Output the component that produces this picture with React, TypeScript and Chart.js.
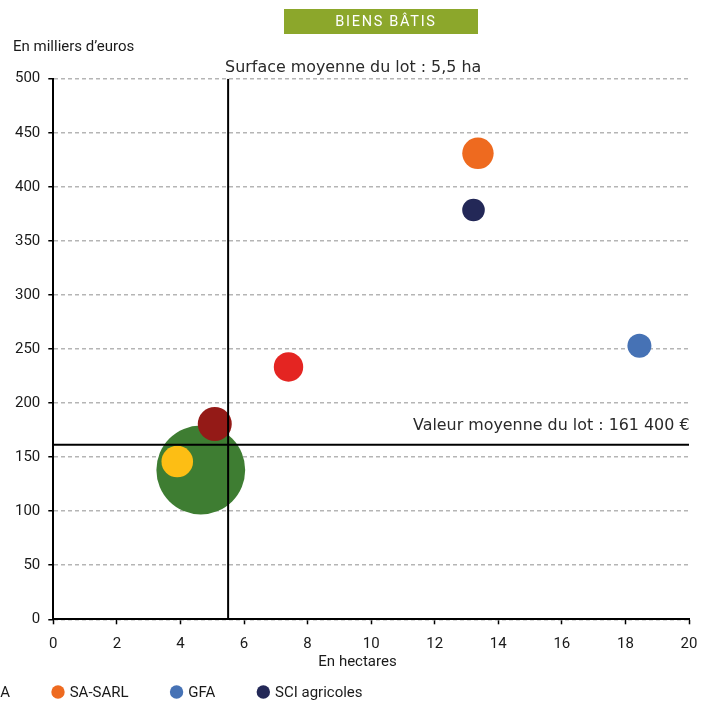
import React, { useEffect, useRef } from 'react';
import { Chart, registerables } from 'chart.js';

Chart.register(...registerables);

// Acquéreurs de biens bâtis : surface moyenne (ha), valeur moyenne (k€), taille de bulle
const seriesNames = ['Personnes physiques', 'EARL', 'GAEC', 'SCEA', 'SA-SARL', 'GFA', 'SCI agricoles'];
const surfaces = [4.64, 3.9, 7.4, 5.08, 13.36, 18.44, 13.22];
const valeurs = [138.1, 145.9, 233.4, 180.6, 431, 253, 378.6];
const bubbleSizes = [44.4, 15.8, 14.7, 17, 15.7, 12, 11.3];
const seriesColors = ['#3E7D32', '#FDBE14', '#E42522', '#941A17', '#EE6A1F', '#4672B5', '#232857'];
const drawOrder = [3, 2, 2, 2, 2, 2, 2];

const surfaceMoyenne = 5.5; // ha
const valeurMoyenne = 161.4; // milliers d'euros

const xTicks = { min: 0, max: 20, step: 2 };
const yTicks = { min: 0, max: 500, step: 50 };

const TICK_FONT = { family: 'Roboto', size: 15 };
const TEXT_COLOR = '#1a1a1a';

const overlayText = {
  id: 'overlayText',
  afterDraw(chart: any) {
    const { ctx } = chart;
    const xs = chart.scales.x;
    const ys = chart.scales.y;
    ctx.save();

    // Bandeau de titre
    ctx.fillStyle = '#8CA72B';
    ctx.fillRect(284, 9, 194, 25);
    ctx.fillStyle = '#ffffff';
    ctx.font = '14.5px Roboto';
    (ctx as any).letterSpacing = '1.7px';
    ctx.textAlign = 'center';
    ctx.textBaseline = 'middle';
    ctx.fillText('BIENS BÂTIS', 386, 22);
    (ctx as any).letterSpacing = '0px';

    // Titre de l'axe vertical
    ctx.fillStyle = TEXT_COLOR;
    ctx.font = '15px Roboto';
    ctx.textAlign = 'left';
    ctx.fillText('En milliers d’euros', 13, 47);

    // Titre de l'axe horizontal
    ctx.textAlign = 'center';
    ctx.fillText('En hectares', 357.5, 662);

    // Libellés des moyennes
    ctx.font = '15.9px "DejaVu Sans"';
    ctx.fillStyle = '#2a2a2a';
    ctx.textAlign = 'left';
    ctx.fillText('Surface moyenne du lot : 5,5 ha', xs.getPixelForValue(surfaceMoyenne) - 3, 68);
    ctx.textAlign = 'right';
    ctx.fillText('Valeur moyenne du lot : 161 400 €', 689.5, ys.getPixelForValue(valeurMoyenne) - 19);

    // Légende
    ctx.font = '15px Roboto';
    ctx.textAlign = 'left';
    const gap = 48;
    const markerR = 6.7;
    const textOffset = 11.7;
    const widths = seriesNames.map((n) => ctx.measureText(n).width);
    const anchorIndex = 4;
    let cx = 58;
    for (let i = 0; i < anchorIndex; i++) cx -= textOffset + widths[i] + gap;
    const ly = 692;
    seriesNames.forEach((name, i) => {
      ctx.beginPath();
      ctx.fillStyle = seriesColors[i];
      ctx.arc(cx, ly, markerR, 0, Math.PI * 2);
      ctx.fill();
      ctx.fillStyle = TEXT_COLOR;
      ctx.fillText(name, cx + textOffset, ly + 1);
      cx += textOffset + widths[i] + gap;
    });

    ctx.restore();
  },
};

export default function App() {
  const canvasRef = useRef<HTMLCanvasElement | null>(null);

  useEffect(() => {
    document.body.style.margin = '0';
    const canvas = canvasRef.current;
    if (!canvas) return;

    const bubbleSets = seriesNames.map((name, i) => ({
      type: 'bubble' as const,
      label: name,
      data: [{ x: surfaces[i], y: valeurs[i], r: bubbleSizes[i] }],
      backgroundColor: seriesColors[i],
      borderWidth: 0,
      order: drawOrder[i],
    }));

    const meanLines = [
      {
        type: 'line' as const,
        label: 'Surface moyenne',
        data: [
          { x: surfaceMoyenne, y: yTicks.min },
          { x: surfaceMoyenne, y: yTicks.max },
        ],
        borderColor: '#000',
        borderWidth: 2,
        pointRadius: 0,
        order: 0,
      },
      {
        type: 'line' as const,
        label: 'Valeur moyenne',
        data: [
          { x: xTicks.min, y: valeurMoyenne },
          { x: xTicks.max, y: valeurMoyenne },
        ],
        borderColor: '#000',
        borderWidth: 2,
        pointRadius: 0,
        order: 0,
      },
    ];

    const chart = new Chart(canvas, {
      type: 'bubble',
      data: { datasets: [...meanLines, ...bubbleSets] as any },
      options: {
        responsive: false,
        animation: false,
        layout: { autoPadding: false, padding: { top: 78.7, right: 12, left: 0, bottom: 0 } },
        plugins: {
          legend: { display: false },
          tooltip: { enabled: false },
          title: { display: false },
        },
        scales: {
          x: {
            type: 'linear',
            min: xTicks.min,
            max: xTicks.max,
            ticks: { stepSize: xTicks.step, font: TICK_FONT, color: TEXT_COLOR, padding: 10.5, maxRotation: 0 },
            grid: {
              drawOnChartArea: false,
              drawTicks: true,
              tickLength: 5,
              tickColor: '#000',
              tickWidth: 1.5,
            },
            border: { display: true, color: '#000', width: 2 },
            afterFit: (scale: any) => {
              scale.height = 83.7;
              scale.paddingLeft = 0;
              scale.paddingRight = 0;
            },
          },
          y: {
            type: 'linear',
            min: yTicks.min,
            max: yTicks.max,
            ticks: { stepSize: yTicks.step, font: TICK_FONT, color: TEXT_COLOR, padding: 8 },
            grid: {
              color: '#b5b5b5',
              lineWidth: 1.5,
              drawTicks: true,
              tickLength: 5,
              tickColor: '#000',
              tickWidth: 1.5,
              tickBorderDash: [],
            },
            border: { display: true, color: '#000', width: 2, dash: [4, 3] },
            afterFit: (scale: any) => {
              scale.width = 53.3;
              scale.paddingTop = 0;
              scale.paddingBottom = 0;
            },
          },
        },
      },
      plugins: [overlayText],
    });

    return () => chart.destroy();
  }, []);

  return (
    <div style={{ position: 'absolute', left: 0, top: 0, width: 701, height: 703, background: '#fff' }}>
      <canvas ref={canvasRef} width={701} height={703} style={{ display: 'block' }} />
    </div>
  );
}
